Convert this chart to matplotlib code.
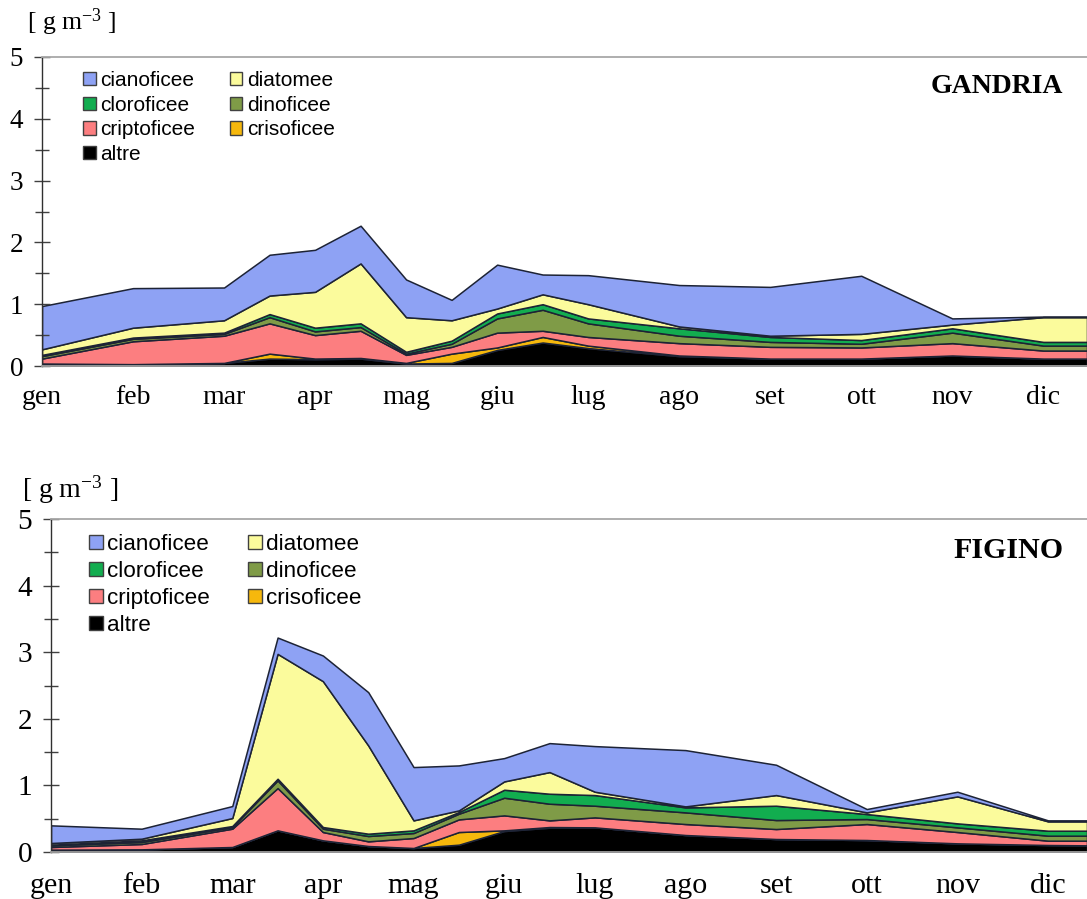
import matplotlib
matplotlib.use("Agg")
import matplotlib.pyplot as plt
from matplotlib.patches import Patch
from matplotlib.ticker import MultipleLocator

plt.rcParams["mathtext.fontset"] = "custom"
plt.rcParams["mathtext.rm"] = "Liberation Serif"
plt.rcParams["mathtext.it"] = "Liberation Serif:italic"

months = ["gen", "feb", "mar", "apr", "mag", "giu", "lug", "ago", "set", "ott", "nov", "dic"]
groups = ["cianoficee", "diatomee", "cloroficee", "dinoficee", "criptoficee", "crisoficee", "altre"]
colors = {
    "cianoficee": "#8ea2f4",
    "diatomee": "#fbfb9c",
    "cloroficee": "#12ad4f",
    "dinoficee": "#7f9b47",
    "criptoficee": "#fc7e80",
    "crisoficee": "#f6b80c",
    "altre": "#000000",
}

# sampling dates in month units (0 = gen)
gandria_x = [0, 1, 2, 2.5, 3, 3.5, 4, 4.5, 5, 5.5, 6, 7, 8, 9, 10, 11, 11.48]
gandria_altre = [0.04, 0.03, 0.05, 0.12, 0.11, 0.12, 0.04, 0.05, 0.26, 0.38, 0.29, 0.16, 0.12, 0.12, 0.17, 0.12, 0.12]
gandria_criso = [0.00, 0.00, 0.00, 0.08, 0.01, 0.01, 0.01, 0.15, 0.04, 0.09, 0.04, 0.01, 0.00, 0.00, 0.00, 0.00, 0.00]
gandria_cripto = [0.08, 0.37, 0.44, 0.49, 0.38, 0.44, 0.13, 0.11, 0.24, 0.10, 0.14, 0.20, 0.19, 0.18, 0.20, 0.13, 0.13]
gandria_dino = [0.04, 0.04, 0.03, 0.10, 0.06, 0.06, 0.02, 0.05, 0.23, 0.34, 0.22, 0.12, 0.08, 0.06, 0.17, 0.08, 0.08]
gandria_cloro = [0.02, 0.02, 0.02, 0.05, 0.06, 0.06, 0.03, 0.05, 0.08, 0.09, 0.08, 0.12, 0.08, 0.06, 0.07, 0.06, 0.06]
gandria_diat = [0.09, 0.16, 0.20, 0.30, 0.58, 0.97, 0.56, 0.33, 0.08, 0.16, 0.23, 0.03, 0.02, 0.10, 0.06, 0.40, 0.40]
gandria_ciano = [0.70, 0.64, 0.53, 0.66, 0.68, 0.61, 0.61, 0.33, 0.71, 0.32, 0.47, 0.67, 0.79, 0.94, 0.10, 0.01, 0.01]

figino_x = [0, 1, 2, 2.5, 3, 3.5, 4, 4.5, 5, 5.5, 6, 7, 8, 9, 10, 11, 11.43]
figino_altre = [0.035, 0.04, 0.075, 0.325, 0.175, 0.09, 0.06, 0.11, 0.315, 0.365, 0.37, 0.255, 0.195, 0.18, 0.13, 0.105, 0.10]
figino_criso = [0.0, 0.0, 0.0, 0.0, 0.0, 0.0, 0.0, 0.19, 0.01, 0.01, 0.0, 0.0, 0.0, 0.0, 0.0, 0.0, 0.0]
figino_cripto = [0.04, 0.08, 0.275, 0.635, 0.125, 0.07, 0.15, 0.19, 0.225, 0.10, 0.15, 0.165, 0.15, 0.24, 0.17, 0.065, 0.07]
figino_dino = [0.025, 0.03, 0.025, 0.115, 0.05, 0.08, 0.075, 0.085, 0.265, 0.25, 0.175, 0.175, 0.135, 0.075, 0.07, 0.075, 0.075]
figino_cloro = [0.01, 0.025, 0.015, 0.025, 0.025, 0.035, 0.04, 0.025, 0.12, 0.15, 0.16, 0.075, 0.215, 0.075, 0.06, 0.075, 0.075]
figino_diat = [0.025, 0.025, 0.12, 1.875, 2.19, 1.325, 0.15, 0.025, 0.125, 0.325, 0.05, 0.015, 0.16, 0.025, 0.405, 0.14, 0.14]
figino_ciano = [0.265, 0.15, 0.18, 0.245, 0.385, 0.80, 0.80, 0.675, 0.35, 0.435, 0.685, 0.845, 0.455, 0.05, 0.07, 0.015, 0.015]

W, H = 1087, 899
fig = plt.figure(figsize=(W / 100, H / 100), dpi=100)


def draw_panel(rect, x, series, station, scale, unit_xy, legend_xy):
    ax = fig.add_axes(rect)
    stack_order = ["altre", "crisoficee", "criptoficee", "dinoficee", "cloroficee", "diatomee", "cianoficee"]
    ax.stackplot(x, *series, colors=[colors[g] for g in stack_order],
                 edgecolor="#1d2335", linewidth=1.1)
    ax.set_xlim(0, x[-1])
    ax.set_ylim(0, 5)
    ax.set_xticks(range(12))
    ax.set_xticklabels(months, family="Liberation Serif", fontsize=20 * scale)
    ax.tick_params(axis="x", length=0, pad=14 * scale)
    ax.yaxis.set_major_locator(MultipleLocator(1))
    ax.yaxis.set_minor_locator(MultipleLocator(0.5))
    ax.tick_params(axis="y", which="major", direction="inout", length=11, width=1.0,
                   color="#404040", labelsize=19.5 * scale, pad=8)
    ax.tick_params(axis="y", which="minor", direction="inout", length=10, width=1.0, color="#404040")
    for lab in ax.get_yticklabels():
        lab.set_family("Liberation Serif")
    ax.spines["right"].set_visible(False)
    ax.spines["top"].set_color("#a8a8a8")
    ax.spines["top"].set_linewidth(1.3)
    ax.spines["bottom"].set_color("#a0a0a0")
    ax.spines["bottom"].set_linewidth(1.3)
    ax.spines["left"].set_color("#303030")
    ax.spines["left"].set_linewidth(1.0)

    ax.text(0.977, 0.905, station, transform=ax.transAxes, ha="right", va="center",
            family="Liberation Serif", fontweight="bold", fontsize=20 * scale)
    fig.text(unit_xy[0] / W, 1 - unit_xy[1] / H, "[ g m$^{-3}$ ]", ha="left", va="center",
             family="Liberation Serif", fontsize=18.5 * scale)

    # legend laid out column-wise: left column first
    order = ["cianoficee", "cloroficee", "criptoficee", "altre", "diatomee", "dinoficee", "crisoficee"]
    handles = [Patch(facecolor=colors[g], edgecolor="#404040", linewidth=1.0, label=g) for g in order]
    ax.legend(handles=handles, ncol=2, loc="upper left",
              bbox_to_anchor=(legend_xy[0] / W, 1 - legend_xy[1] / H), bbox_transform=fig.transFigure,
              frameon=False, borderpad=0, borderaxespad=0, handlelength=0.6, handleheight=0.6,
              handletextpad=0.2, labelspacing=0.27, columnspacing=1.7,
              prop={"family": "Liberation Sans", "size": 15 * scale})
    return ax


top_rect = [42 / W, 1 - 366 / H, (W - 42) / W, 309 / H]
draw_panel(top_rect, gandria_x,
           [gandria_altre, gandria_criso, gandria_cripto, gandria_dino, gandria_cloro, gandria_diat, gandria_ciano],
           "GANDRIA", 1.0, (27, 22), (83, 71))

bot_rect = [51 / W, 1 - 852 / H, (W - 51) / W, 333 / H]
draw_panel(bot_rect, figino_x,
           [figino_altre, figino_criso, figino_cripto, figino_dino, figino_cloro, figino_diat, figino_ciano],
           "FIGINO", 1.08, (22, 490), (89, 534))

fig.savefig("out.png", dpi=100)
